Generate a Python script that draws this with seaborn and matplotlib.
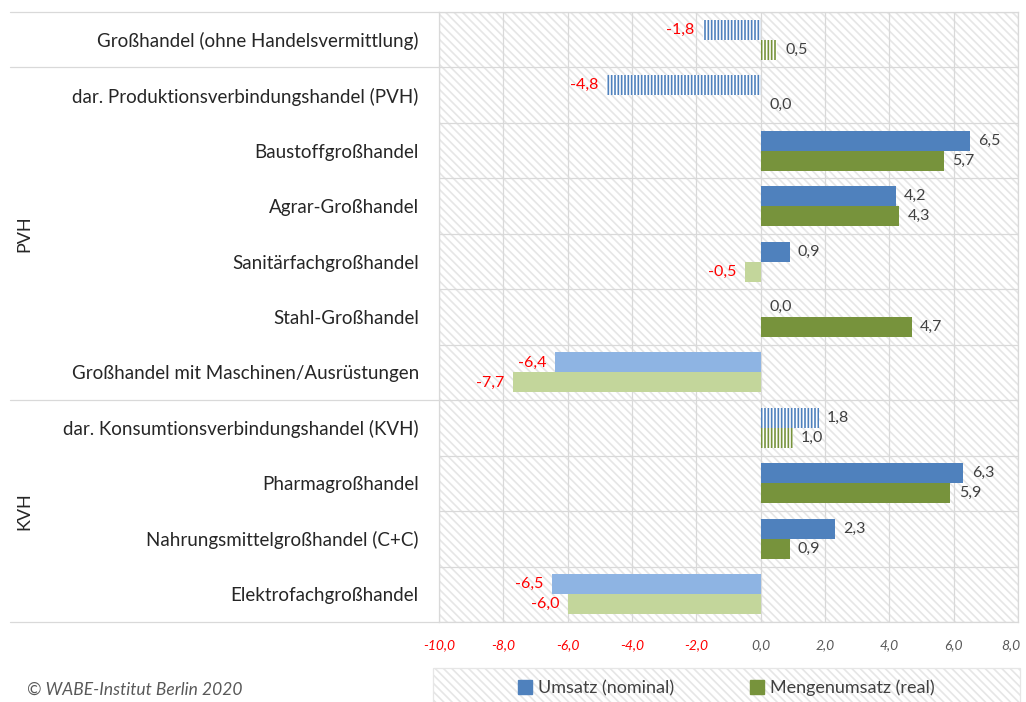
import pandas as pd
import matplotlib.pyplot as plt
import seaborn as sns
from matplotlib.patches import Patch, Rectangle
from matplotlib.lines import Line2D
from matplotlib.transforms import ScaledTranslation

# ------------------------------
# Data
# ------------------------------
categories = [
    "Großhandel (ohne Handelsvermittlung)",
    "dar. Produktionsverbindungshandel (PVH)",
    "Baustoffgroßhandel",
    "Agrar-Großhandel",
    "Sanitärfachgroßhandel",
    "Stahl-Großhandel",
    "Großhandel mit Maschinen/Ausrüstungen",
    "dar. Konsumtionsverbindungshandel (KVH)",
    "Pharmagroßhandel",
    "Nahrungsmittelgroßhandel (C+C)",
    "Elektrofachgroßhandel",
]
umsatz_nominal = [-1.8, -4.8, 6.5, 4.2, 0.9, 0.0, -6.4, 1.8, 6.3, 2.3, -6.5]
mengenumsatz_real = [0.5, 0.0, 5.7, 4.3, -0.5, 4.7, -7.7, 1.0, 5.9, 0.9, -6.0]
summary_rows = [0, 1, 7]   # aggregate rows drawn with stripes
series_names = ["Umsatz (nominal)", "Mengenumsatz (real)"]
x_ticks = [-10, -8, -6, -4, -2, 0, 2, 4, 6, 8]

df = pd.DataFrame({"Kategorie": categories,
                   series_names[0]: umsatz_nominal,
                   series_names[1]: mengenumsatz_real})
df_long = df.melt(id_vars="Kategorie", var_name="Reihe", value_name="Wert")

# colours
pos_colors = ["#4F81BD", "#77933C"]
neg_colors = ["#8EB4E3", "#C3D69B"]
grid_col = "#d9d9d9"
hatch_col = "#e6e6e6"
text_col = "#262626"
label_col = "#404040"

# ------------------------------
# Style
# ------------------------------
sns.set_style("white")
plt.rcParams['font.family'] = ['Lato', 'DejaVu Sans']
plt.rcParams['hatch.linewidth'] = 1.2

fig = plt.figure(figsize=(10.26, 7.02), dpi=100)
ax = fig.add_axes([439 / 1026, 1 - 622 / 702, (1018 - 439) / 1026, (622 - 12) / 702])

sns.barplot(data=df_long, y="Kategorie", x="Wert", hue="Reihe", orient="h",
            palette=pos_colors, width=0.72, legend=False, ax=ax, zorder=3)

# hatched background of plot area
ax.add_patch(Rectangle((0, 0), 1, 1, transform=ax.transAxes, facecolor="white",
                       edgecolor=hatch_col, hatch="\\\\\\\\", lw=0, zorder=0))

# recolour bars by sign / summary rows
for i, cont in enumerate(ax.containers):
    for j, bar in enumerate(cont.patches):
        val = cont.datavalues[j]
        if j in summary_rows:
            bar.set_facecolor("white")
            bar.set_edgecolor(pos_colors[i])
            bar.set_hatch("|||||")
        else:
            bar.set_facecolor(pos_colors[i] if val >= 0 else neg_colors[i])
        bar.set_linewidth(0)
    labels = ax.bar_label(cont, fmt=lambda v: f"{v:.1f}".replace(".", ","),
                          padding=6, fontsize=11.5)
    for t, val in zip(labels, cont.datavalues):
        t.set_color("red" if val < 0 else label_col)

# axes / grid
ax.set_xlim(-10, 8)
ax.set_ylim(len(categories) - 0.5, -0.5)
ax.set_xticks(x_ticks)
ax.set_xticklabels([f"{v:.1f}".replace(".", ",") for v in x_ticks],
                   fontsize=10, style="italic")
ax.tick_params(axis="x", length=0, pad=12)
ax.tick_params(axis="y", length=0, pad=14.5, labelsize=13.5, labelcolor=text_col)
for t, v in zip(ax.get_xticklabels(), x_ticks):
    t.set_color("red" if v < 0 else "#595959")
last = ax.get_xticklabels()[-1]
last.set_transform(last.get_transform() + ScaledTranslation(-5 / 72, 0, fig.dpi_scale_trans))
ax.set_xlabel("")
ax.set_ylabel("")
for x in x_ticks:
    ax.axvline(x, color=grid_col, lw=0.9, zorder=1)
for k in range(len(categories) + 1):
    ax.axhline(k - 0.5, color=grid_col, lw=0.9, zorder=1)
for s in ax.spines.values():
    s.set_color(grid_col)
    s.set_linewidth(0.9)

# group separators in the label column
x_left = (10 - 439) / (1018 - 439)
for yb in [-0.5, 0.5, 6.5, 10.5]:
    ax.add_line(Line2D([x_left, 0], [yb, yb], transform=ax.get_yaxis_transform(),
                       color=grid_col, lw=0.9, clip_on=False))
ax.text(x_left + 0.025, 3.5, "PVH", transform=ax.get_yaxis_transform(), rotation=90,
        ha="center", va="center", fontsize=13, color=text_col)
ax.text(x_left + 0.025, 8.5, "KVH", transform=ax.get_yaxis_transform(), rotation=90,
        ha="center", va="center", fontsize=13, color=text_col)

# legend box with hatch
fig.patches.append(Rectangle((433 / 1026, -0.02), (1020 - 433) / 1026, 0.02 + 1 - 668 / 702,
                             transform=fig.transFigure, facecolor="white",
                             edgecolor=hatch_col, hatch="\\\\\\\\", lw=0.9, zorder=0))
handles = [Patch(facecolor=c, edgecolor=c) for c in pos_colors]
fig.legend(handles, series_names, loc="center", bbox_to_anchor=(726 / 1026, 1 - 688 / 702),
           ncol=2, frameon=False, fontsize=13, handlelength=0.8, handleheight=0.8,
           handletextpad=0.3, columnspacing=4.2, labelcolor="#404040")

fig.text(27 / 1026, 1 - 690 / 702, "© WABE-Institut Berlin 2020", style="italic",
         fontsize=12.5, color="#595959", va="center", ha="left")

plt.savefig("out.png", dpi=100)
plt.close()
